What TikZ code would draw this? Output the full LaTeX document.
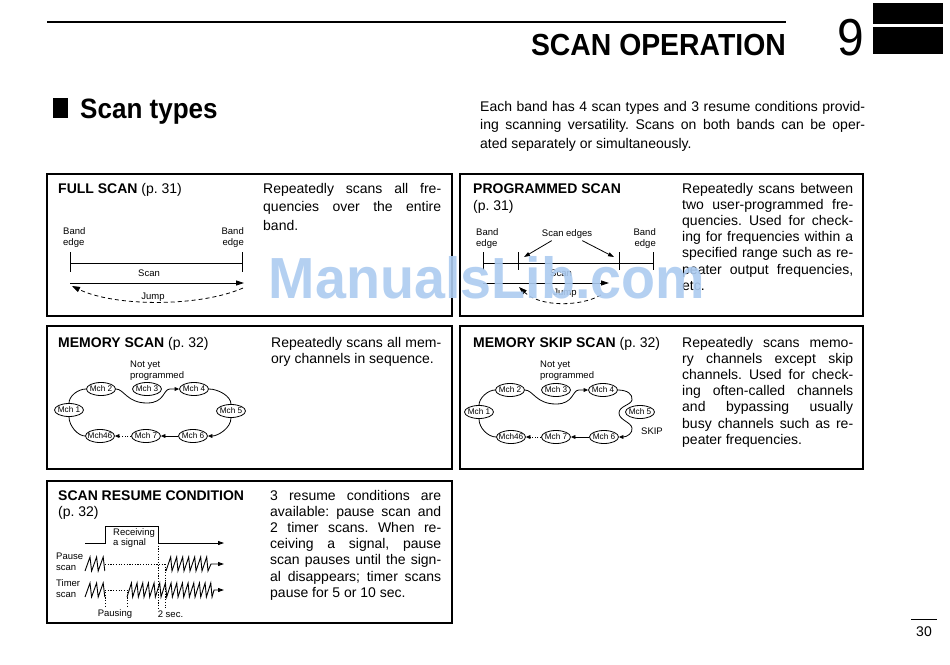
\documentclass[tikz,border=0pt]{standalone}
\usepackage{graphicx}
\usepackage{fontspec}
\setmainfont{Liberation Sans}
\usetikzlibrary{arrows.meta,shapes.geometric}
\frenchspacing
\newcommand{\jl}[1]{\makebox[\linewidth][s]{#1}\\}
\newcommand{\fs}[2]{\fontsize{#1}{#2}\selectfont}
\definecolor{wmark}{RGB}{172,203,240}
\begin{document}
\begin{tikzpicture}[x=1pt,y=-1pt,
  frame/.style={line width=1.4pt},
  wire/.style={line width=0.8pt},
  zig/.style={line width=0.9pt,line join=miter},
  lbl/.style={inner sep=0pt,font=\fs{9.5}{11}},
  title/.style={inner sep=0pt,anchor=base west,font=\fs{14}{16.5}},
  body/.style={inner sep=0pt,anchor=base west,font=\fs{14}{16.2}},
  mch/.style={draw,ellipse,line width=0.8pt,font=\fs{8.2}{9},inner xsep=-2.5pt,inner ysep=0pt,minimum width=29pt,minimum height=13pt},
  bigtip/.style={-{Triangle[length=8pt,width=5pt]}},
  midtip/.style={-{Triangle[length=6pt,width=4pt]}},
  smalltip/.style={-{Triangle[length=4.5pt,width=3.8pt]}},
  jump/.style={wire,dash pattern=on 4pt off 3pt,-{Triangle[length=8pt,width=5.5pt]}},
  dots/.style={line width=0.6pt,dash pattern=on 1.2pt off 1.5pt},
]
\useasboundingbox (0,0) rectangle (950,664);
% ---------- header ----------
\draw[line width=2pt] (47,22) -- (786,22);
\node[anchor=base east,inner sep=0,font=\bfseries\fs{30.5}{32}] (hdr) at (786,55) {\scalebox{0.93}[1]{SCAN OPERATION}};
\node[anchor=base east,inner sep=0,font=\fs{52}{56}] (chap) at (864,55) {\scalebox{0.92}[1]{9}};
\fill (873,3) rectangle (943,24);
\fill (873,27) rectangle (943,54);
\fill (53,98) rectangle (68,118);
\node[anchor=base west,inner sep=0,font=\bfseries\fs{28}{30}] (st) at (80,118) {\scalebox{0.93}[1]{Scan types}};
\node[body] (intro) at (480,111) {\parbox[t]{385pt}{\fs{14}{18.5}\jl{Each band has 4 scan types and 3 resume conditions provid-}\jl{ing scanning versatility. Scans on both bands can be oper-}ated separately or simultaneously.}};
% ---------- FULL SCAN ----------
\draw[frame] (47,174) rectangle (452,316);
\node[title] (t1) at (58,193) {\textbf{FULL SCAN} (p. 31)};
\node[body] (d1) at (263,193) {\parbox[t]{178pt}{\fs{14}{18.5}\jl{Repeatedly scans all fre-}\jl{quencies over the entire}band.}};
\node[lbl,align=left,anchor=west] (be1) at (63,238) {Band\\edge};
\node[lbl,align=right,anchor=east] (be2) at (244,238) {Band\\edge};
\coordinate (f1t) at (70,252); \coordinate (f1b) at (70,272);
\coordinate (f2t) at (242,252); \coordinate (f2b) at (242,272);
\coordinate (f1m) at (70,263); \coordinate (f2m) at (242,263);
\draw[wire] (f1t) -- (f1b);
\draw[wire] (f2t) -- (f2b);
\draw[wire] (f1m) -- (f2m);
\node[lbl] (sc1) at (149,273) {Scan};
\coordinate (fa1) at (70,283); \coordinate (fa2) at (244,283);
\draw[wire,bigtip] (fa1) -- (fa2);
\coordinate (fj1) at (243,288); \coordinate (fj2) at (72,286);
\draw[jump] (fj1) .. controls (200,307) and (115,307) .. (fj2);
\node[lbl] (jp1) at (153,297) {Jump};
% ---------- PROGRAMMED SCAN ----------
\draw[frame] (460,174) rectangle (863,316);
\node[title] (t2) at (473,193) {\textbf{PROGRAMMED SCAN}};
\node[title] (t2b) at (473,210) {(p. 31)};
\node[body] (d2) at (682,193) {\parbox[t]{171pt}{\fs{14}{16.2}\jl{Repeatedly scans between}\jl{two user-programmed fre-}\jl{quencies. Used for check-}\jl{ing for frequencies within a}\jl{specified range such as re-}\jl{peater output frequencies,}etc.}};
\node[lbl,align=left,anchor=west] (be3) at (476,239) {Band\\edge};
\node[lbl] (se) at (567,234) {Scan edges};
\node[lbl,align=right,anchor=east] (be4) at (656,239) {Band\\edge};
\foreach \xx in {483,518,619,653}{\draw[wire] (\xx,252) -- (\xx,270);}
\coordinate (p1m) at (483,263); \coordinate (p4m) at (653,263);
\draw[wire] (p1m) -- (p4m);
\coordinate (e1) at (524,257); \coordinate (e2) at (614,257);
\draw[wire,midtip] ([xshift=10pt,yshift=-2pt]se.south west) -- (e1);
\draw[wire,midtip] ([xshift=-10pt,yshift=-2pt]se.south east) -- (e2);
\node[lbl] (sc2) at (561,273) {Scan};
\coordinate (pa1) at (483,283); \coordinate (pa2) at (609,283);
\draw[wire,bigtip] (pa1) -- (pa2);
\coordinate (pj1) at (601,295); \coordinate (pj2) at (519,287);
\draw[jump] (pj1) .. controls (580,307) and (540,307) .. (pj2);
\node[lbl] (jp2) at (565,293) {Jump};
% ---------- MEMORY SCAN ----------
\draw[frame] (47,326) rectangle (452,469);
\node[title] (t3) at (58,347) {\textbf{MEMORY SCAN} (p. 32)};
\node[body] (d3) at (271,347) {\parbox[t]{170pt}{\fs{14}{16.2}\jl{Repeatedly scans all mem-}ory channels in sequence.}};
\node[lbl,align=left,anchor=north west] (ny1) at (130,361) {Not yet\\programmed};
\node[mch] (a1) at (69,410) {Mch 1};
\node[mch] (a2) at (101,389) {Mch 2};
\node[mch] (a3) at (147,389) {Mch 3};
\node[mch] (a4) at (194,389) {Mch 4};
\node[mch] (a5) at (231,411) {Mch 5};
\node[mch] (a46) at (100,436) {Mch46};
\node[mch] (a7) at (146,436) {Mch 7};
\node[mch] (a6) at (193,436) {Mch 6};
\draw[wire] (a1.north) .. controls (69,396) and (78,389) .. (a2.west);
\draw[wire,smalltip] (a2.east) .. controls (124,389) and (127,403) .. (147,403) .. controls (165,403) and (163,389) .. (170,389) -- (a4.west);
\draw[wire] (a4.east) .. controls (218,389) and (231,396) .. (a5.north);
\draw[wire,smalltip] (a5.south) .. controls (231,428) and (218,436) .. (a6.east);
\draw[wire,smalltip] (a6.west) -- (a7.east);
\draw[dots,smalltip] (a7.west) -- (a46.east);
\draw[wire] (a46.west) .. controls (78,436) and (69,426) .. (a1.south);
% ---------- MEMORY SKIP SCAN ----------
\draw[frame] (460,326) rectangle (863,469);
\node[title] (t4) at (473,347) {\textbf{MEMORY SKIP SCAN} (p. 32)};
\node[body] (d4) at (682,347) {\parbox[t]{171pt}{\fs{14}{16.2}\jl{Repeatedly scans memo-}\jl{ry channels except skip}\jl{channels. Used for check-}\jl{ing often-called channels}\jl{and bypassing usually}\jl{busy channels such as re-}peater frequencies.}};
\node[lbl,align=left,anchor=north west] (ny2) at (540,361) {Not yet\\programmed};
\node[mch] (b1) at (479,412) {Mch 1};
\node[mch] (b2) at (510,390) {Mch 2};
\node[mch] (b3) at (556,390) {Mch 3};
\node[mch] (b4) at (603,390) {Mch 4};
\node[mch] (b5) at (640,412) {Mch 5};
\node[mch] (b46) at (511,437) {Mch46};
\node[mch] (b7) at (556,437) {Mch 7};
\node[mch] (b6) at (604,437) {Mch 6};
\node[lbl] (skip) at (652,431) {SKIP};
\draw[wire] (b1.north) .. controls (479,398) and (488,390) .. (b2.west);
\draw[wire,smalltip] (b2.east) .. controls (533,390) and (536,404) .. (556,404) .. controls (574,404) and (572,390) .. (579,390) -- (b4.west);
\draw[wire,smalltip] (b4.east) .. controls (627,390) and (633,394) .. (632,400) .. controls (631,405) and (619,406) .. (619,413) .. controls (619,420) and (631,422) .. (632,428) .. controls (633,433) and (627,437) .. (b6.east);
\draw[wire,smalltip] (b6.west) -- (b7.east);
\draw[dots,smalltip] (b7.west) -- (b46.east);
\draw[wire] (b46.west) .. controls (488,437) and (479,428) .. (b1.south);
% ---------- SCAN RESUME CONDITION ----------
\draw[frame] (47,481) rectangle (452,623);
\node[title] (t5) at (58,500) {\textbf{SCAN RESUME CONDITION}};
\node[title] (t5b) at (58,516) {(p. 32)};
\node[body] (d5) at (270,500) {\parbox[t]{171pt}{\fs{14}{16.2}\jl{3 resume conditions are}\jl{available: pause scan and}\jl{2 timer scans. When re-}\jl{ceiving a signal, pause}\jl{scan pauses until the sign-}\jl{al disappears; timer scans}pause for 5 or 10 sec.}};
\coordinate (s0) at (85,543); \coordinate (s1) at (105,543); \coordinate (s2) at (105,526);
\coordinate (s3) at (158,526); \coordinate (s4) at (158,543); \coordinate (s5) at (224,543);
\draw[wire,midtip] (s0) -- (s1) -- (s2) -- (s3) -- (s4) -- (s5);
\node[lbl,align=left,anchor=north west,font=\fs{9.5}{10.5}] (rx) at (113,528) {Receiving\\a signal};
\node[lbl,align=left,anchor=west] (ps) at (56,562) {Pause\\scan};
\node[lbl,align=left,anchor=west] (ts) at (56,588.5) {Timer\\scan};
% pause scan
\draw[zig] (85,571) \foreach \i in {1,...,3}{ -- ++(5,-14) -- ++(1.6,14)};
\draw[dots] (105,564) -- (166,564);
\draw[zig,midtip] (166,571) \foreach \i in {1,...,7}{ -- ++(4.7,-14) -- ++(1.3,14)} -- ++(3,-7) -- (224,564);
% timer scan
\draw[zig] (85,597) \foreach \i in {1,...,3}{ -- ++(5,-14) -- ++(1.6,14)};
\draw[dots] (105,590) -- (127,590);
\draw[zig,midtip] (127,597) \foreach \i in {1,...,15}{ -- ++(4.4,-14) -- ++(1.27,14)} -- ++(2,-7) -- (224,590);
\draw[dots] (158,543) -- (158,608);
\draw[dots] (165,564) -- (165,608);
\draw[dots] (105,592) -- (105,608);
\draw[dots] (127,592) -- (127,608);
\node[lbl] (pz) at (115,614) {Pausing};
\node[lbl] (tw) at (170.5,614) {2 sec.};
% ---------- page number ----------
\draw[line width=1pt] (911,619) -- (937,619);
\node[anchor=base,inner sep=0,font=\fs{14}{16}] (pg) at (924,636) {30};
% ---------- watermark ----------
\node[anchor=base,inner sep=0,text=wmark,opacity=0.9,font=\bfseries\fs{58}{60}] (wm) at (487,298) {\scalebox{0.96}[1]{ManualsLib.com}};
\end{tikzpicture}
\end{document}
